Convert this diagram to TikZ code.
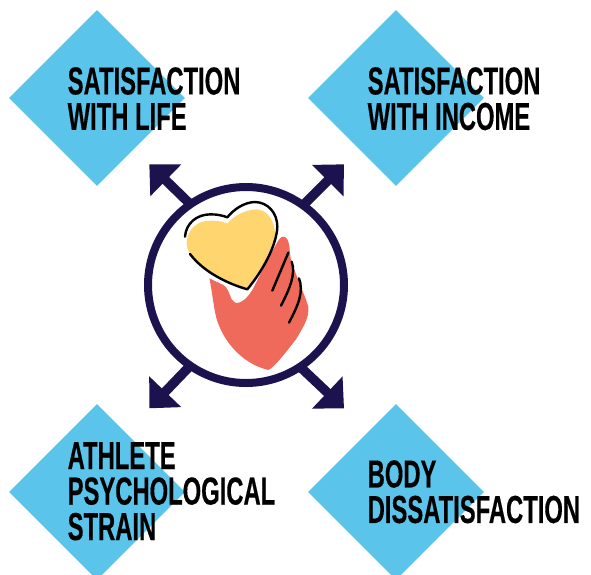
\documentclass[tikz,border=0pt]{standalone}
\usepackage{fontspec}
\setmainfont[FakeStretch=0.61,BoldFeatures={FakeStretch=0.61,FakeBold=0.3}]{Liberation Sans}
\usetikzlibrary{shapes.geometric,arrows.meta}
\definecolor{skyb}{HTML}{5AC4EB}
\definecolor{navyd}{HTML}{1C134E}
\definecolor{coral}{HTML}{F06A5C}
\definecolor{honey}{HTML}{FFD56F}
\tikzset{
  tile/.style={shape=diamond,aspect=1,fill=skyb,draw=none,inner sep=0pt,minimum width=176pt,minimum height=176pt},
  lab/.style={anchor=north west,align=left,inner sep=0pt,text=black,font=\fontsize{39}{35.5}\selectfont\bfseries},
  spoke/.style={draw=navyd,line width=9.5pt,-{Triangle[length=23pt,width=43pt]},shorten <=-3pt},
  hubring/.style={shape=circle,draw=navyd,line width=8pt,inner sep=0pt,minimum size=196pt},
  ink/.style={draw=black,line width=2.4pt,line cap=round,line join=round}
}
\begin{document}
\begin{tikzpicture}[x=1pt,y=-1pt]
\useasboundingbox (0,0) rectangle (591,574);
\node[tile] (d1) at (97,98) {};
\node[tile] (d2) at (396,98) {};
\node[tile] (d3) at (97,492) {};
\node[tile] (d4) at (396,492) {};
\coordinate (tl) at (149.3,164.3);
\coordinate (tr) at (344,164.3);
\coordinate (bl) at (149.3,408.3);
\coordinate (br) at (344,408.3);
\node[hubring] (hub) at (246,285) {};
\draw[spoke] (hub.125.4) -- (tl);
\draw[spoke] (hub.54) -- (tr);
\draw[spoke] (hub.235.9) -- (bl);
\draw[spoke] (hub.304.7) -- (br);
\begin{scope}[shift={(140,155)},x=0.3333pt,y=-0.3333pt]
  % hand
  \fill[coral] (208,370) .. controls (215,400) and (220,450) .. (228,485)
    .. controls (245,550) and (300,625) .. (385,645)
    .. controls (400,640) and (440,590) .. (470,550)
    .. controls (490,515) and (508,490) .. (505,455)
    .. controls (495,420) and (470,370) .. (452,310)
    .. controls (448,285) and (450,245) .. (430,245)
    .. controls (415,245) and (405,280) .. (390,300)
    -- (340,400)
    .. controls (325,425) and (305,448) .. (285,443)
    .. controls (268,435) and (272,405) .. (250,390)
    -- cycle;
  % heart fill
  \fill[honey] (140,262) .. controls (142,225) and (170,195) .. (215,197)
    .. controls (235,197) and (250,200) .. (262,206)
    .. controls (280,185) and (310,165) .. (350,163)
    .. controls (385,165) and (405,200) .. (405,240)
    .. controls (400,290) and (365,355) .. (325,402)
    .. controls (270,385) and (200,350) .. (160,310)
    .. controls (148,295) and (140,285) .. (140,262) -- cycle;
  % heart outline
  \draw[ink] (135,245) .. controls (138,205) and (170,178) .. (212,178)
    .. controls (232,178) and (250,182) .. (262,187)
    .. controls (280,165) and (310,142) .. (345,141)
    .. controls (385,142) and (412,175) .. (412,215)
    .. controls (410,270) and (370,345) .. (322,403)
    .. controls (260,385) and (190,350) .. (150,297);
  % fingers
  \draw[ink] (445,293) -- (397,407);
  \draw[ink] (455,320) .. controls (468,355) and (450,400) .. (423,452);
  \draw[ink] (477,370) .. controls (492,410) and (475,450) .. (447,503);
\end{scope}
\node[lab] (t1) at (67.5,67) {SATISFACTION\\WITH LIFE};
\node[lab] (t2) at (367.5,67) {SATISFACTION\\WITH INCOME};
\node[lab] (t3) at (67.5,442) {ATHLETE\\PSYCHOLOGICAL\\STRAIN};
\node[lab] (t4) at (367.5,460) {BODY\\DISSATISFACTION};
\end{tikzpicture}
\end{document}
